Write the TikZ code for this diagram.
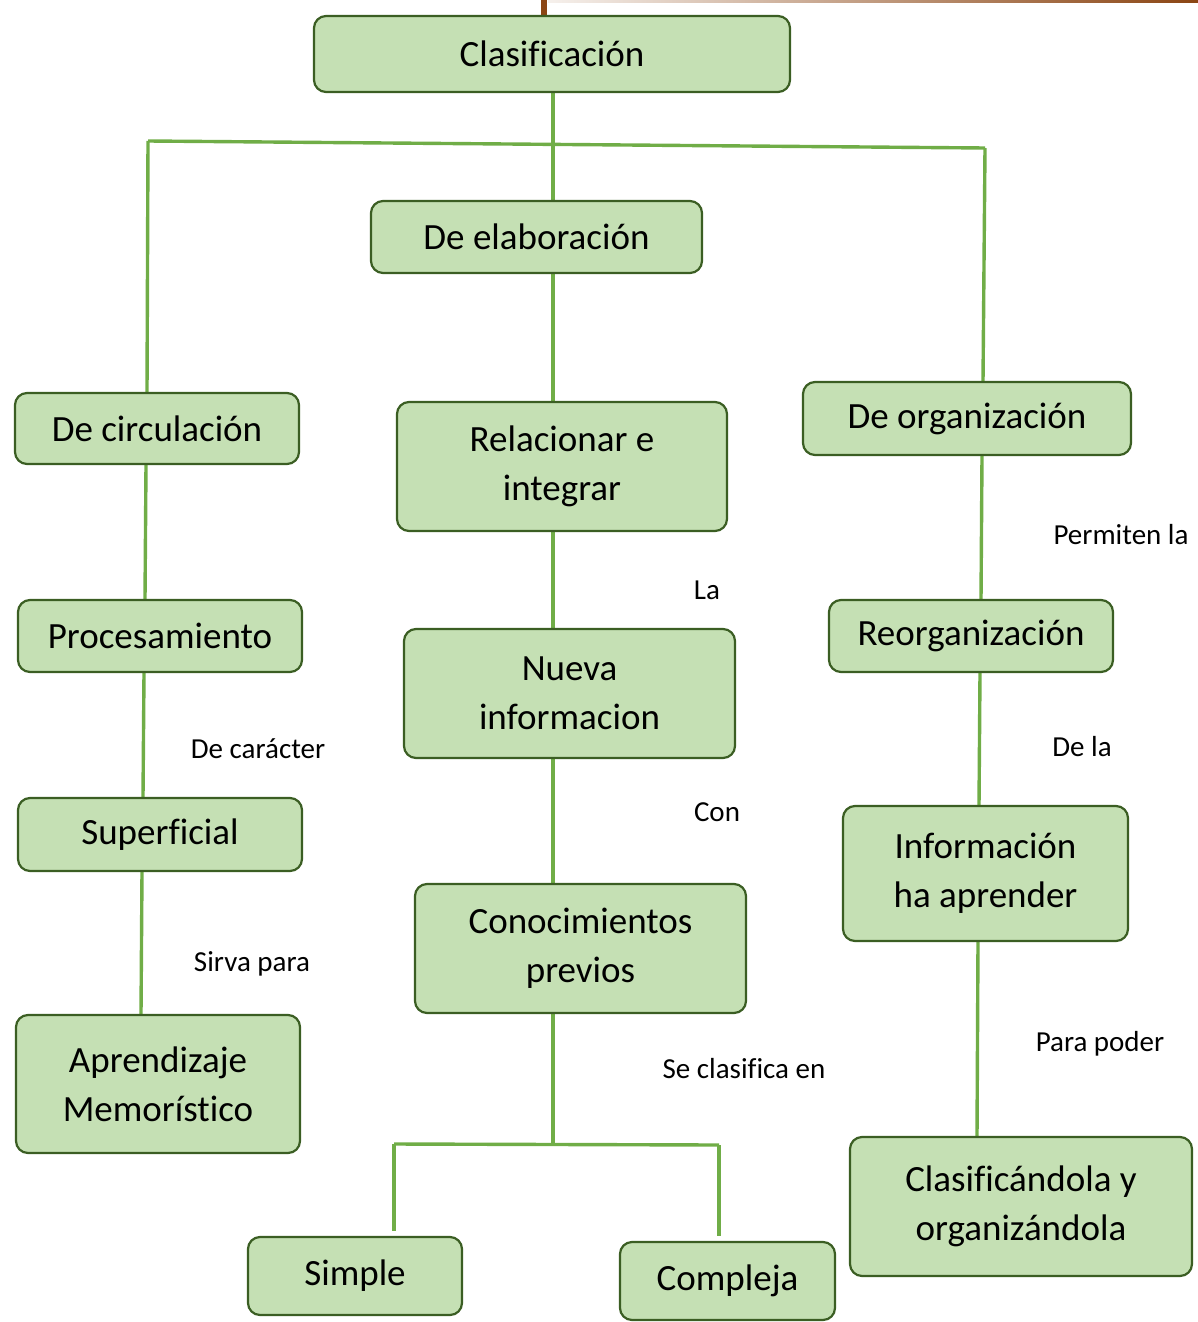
\documentclass[tikz,border=0pt]{standalone}
\usepackage{fontspec}
\setmainfont[Ligatures=NoCommon]{Carlito}
\usetikzlibrary{backgrounds}
\definecolor{cajafondo}{HTML}{C5E0B4}
\definecolor{cajaborde}{HTML}{3B5E23}
\definecolor{ramaverde}{HTML}{70AD47}
\definecolor{cafe}{HTML}{8B4513}

\begin{document}
\begin{tikzpicture}[x=0.5pt,y=-0.5pt,
    caja/.style={draw=cajaborde, fill=cajafondo, line width=1.1pt, rounded corners=6pt,
        align=center, inner sep=0pt, font=\fontsize{18.5}{24.5}\selectfont},
    rama/.style={draw=ramaverde, line width=1.7pt},
    etiq/.style={inner sep=0pt, font=\fontsize{14.5}{17}\selectfont}]
    \useasboundingbox (0,0) rectangle (1198,1322);
    % Cajas
    \node[caja, minimum width=238pt, minimum height=38pt] (clas) at (552,54) {Clasificación};
    \node[caja, minimum width=165.5pt, minimum height=36pt] (elab) at (536.5,237) {De elaboración};
    \node[caja, minimum width=142pt, minimum height=35.5pt] (circ) at (157,428.5) {De circulación};
    \node[caja, minimum width=165pt, minimum height=64.5pt] (rel) at (562,466.5) {Relacionar e\\integrar};
    \node[caja, minimum width=164pt, minimum height=36.5pt] (org) at (967,418.5) {De organización};
    \node[caja, minimum width=142pt, minimum height=36pt] (proc) at (160,636) {Procesamiento};
    \node[caja, minimum width=165.5pt, minimum height=64.5pt] (nueva) at (569.5,693.5) {Nueva\\informacion};
    \node[caja, minimum width=142pt, minimum height=36pt] (reorg) at (971,636) {Reorganización};
    \node[caja, minimum width=142pt, minimum height=36.5pt] (sup) at (160,834.5) {Superficial};
    \node[caja, minimum width=142.5pt, minimum height=67.5pt] (info) at (985.5,873.5) {Información\\ha aprender};
    \node[caja, minimum width=165.5pt, minimum height=64.5pt] (conoc) at (580.5,948.5) {Conocimientos\\previos};
    \node[caja, minimum width=142pt, minimum height=69pt] (apre) at (158,1084) {Aprendizaje\\Memorístico};
    \node[caja, minimum width=171pt, minimum height=69.5pt] (clasif) at (1021,1206.5) {Clasificándola y\\organizándola};
    \node[caja, minimum width=107pt, minimum height=39pt] (simple) at (355,1276) {Simple};
    \node[caja, minimum width=107.5pt, minimum height=39pt] (compl) at (727.5,1281) {Compleja};
    % Etiquetas
    \node[etiq] (lperm) at (1121,535) {Permiten la};
    \node[etiq] (lla) at (707,590) {La};
    \node[etiq] (lcar) at (258,749) {De carácter};
    \node[etiq] (ldela) at (1082,747) {De la};
    \node[etiq] (lcon) at (717,812) {Con};
    \node[etiq] (lsirva) at (252,964) {Sirva para};
    \node[etiq] (lpara) at (1100,1044) {Para poder};
    \node[etiq] (lse) at (744,1069) {Se clasifica en};
    % Puntos de union
    \coordinate (izq) at (148,141);
    \coordinate (der) at (985,148);
    \coordinate (bif) at (553,1144);
    \coordinate (bifI) at (394,1144);
    \coordinate (bifD) at (719,1145);
    \begin{scope}[on background layer]
    % Linea superior
    \draw[cafe, line width=3pt] (clas.north -| 544,0) -- (544,0);
    \shade[left color=cafe!8, right color=cafe] (548,0) rectangle (1198,2.5);
    % Ramas
    \draw[rama] (clas.south -| 553,0) -- (elab.north -| 553,0);
    \draw[rama] (izq) -- (der);
    \draw[rama] (izq) -- (circ.north -| 147,0);
    \draw[rama] (der) -- (org.north -| 983,0);
    \draw[rama] (elab.south -| 553,0) -- (rel.north -| 553,0);
    \draw[rama] (rel.south -| 553,0) -- (nueva.north -| 553,0);
    \draw[rama] (nueva.south -| 553,0) -- (conoc.north -| 553,0);
    \draw[rama] (conoc.south -| 553,0) -- (bif);
    \draw[rama] (bifI) -- (bifD);
    \draw[rama, shorten >=2.5pt] (bifI) -- (simple.north -| bifI);
    \draw[rama, shorten >=2.5pt] (bifD) -- (compl.north -| bifD);
    \draw[rama] (circ.south -| 146,0) -- (proc.north -| 145,0);
    \draw[rama] (proc.south -| 144,0) -- (sup.north -| 143,0);
    \draw[rama] (sup.south -| 142,0) -- (apre.north -| 141,0);
    \draw[rama] (org.south -| 982,0) -- (reorg.north -| 981,0);
    \draw[rama] (reorg.south -| 980,0) -- (info.north -| 979,0);
    \draw[rama] (info.south -| 978,0) -- (clasif.north -| 977,0);
    \end{scope}
\end{tikzpicture}
\end{document}
